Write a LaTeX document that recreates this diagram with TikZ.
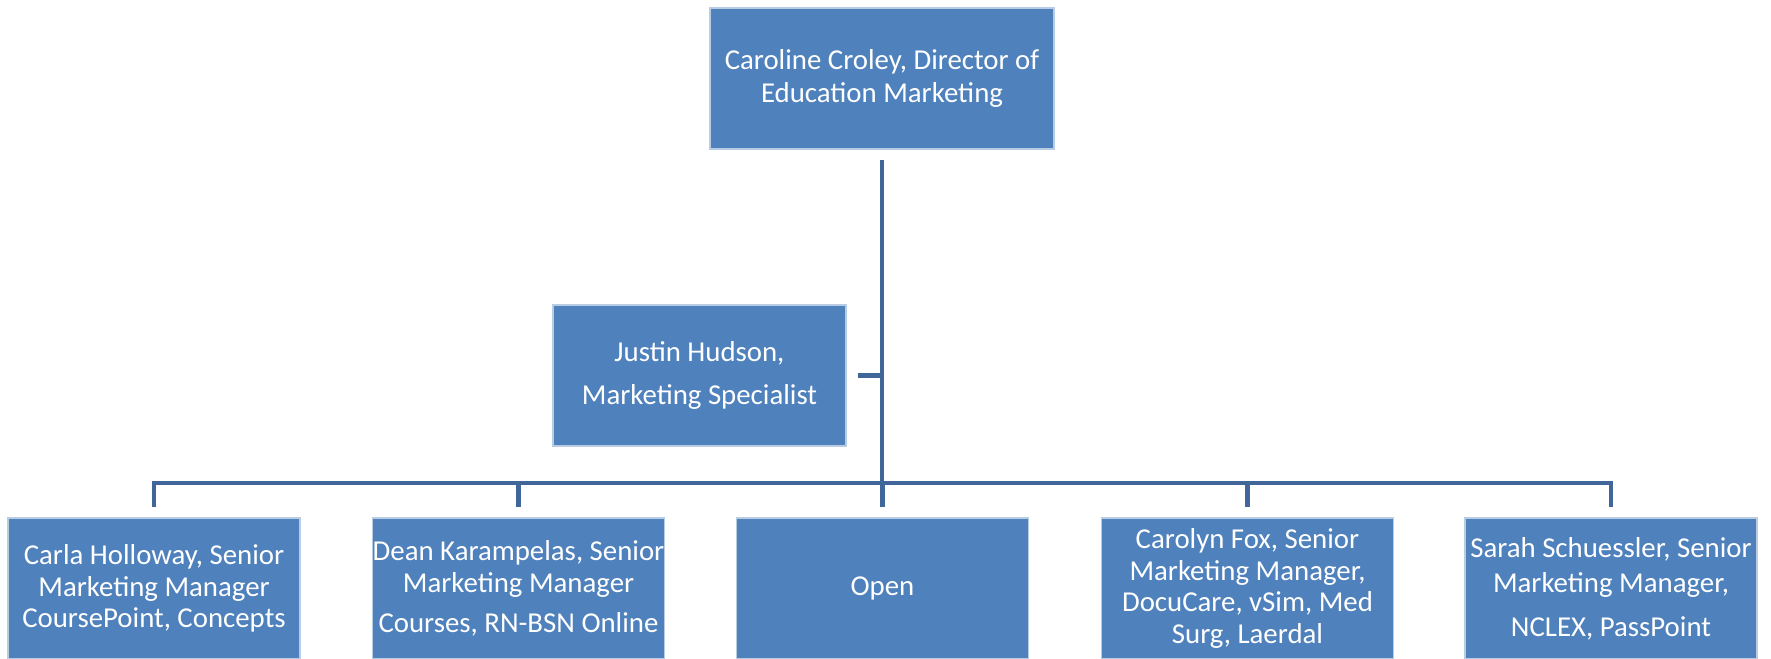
\documentclass[tikz,border=0pt]{standalone}
\usepackage{fontspec}
\setmainfont{Carlito}
\definecolor{boxblue}{HTML}{4F81BD}
\definecolor{lineblue}{HTML}{41679A}
\definecolor{edgeblue}{HTML}{B8CCE4}
\tikzset{
  orgbox/.style={rectangle,fill=boxblue,draw=edgeblue,line width=.4pt,text=white,align=center,
    inner sep=0pt,minimum width=2.92cm,minimum height=1.41cm,font=\fontsize{8.2}{9}\selectfont},
  link/.style={draw=lineblue,line width=1.4pt}
}

\begin{document}
\begin{tikzpicture}
                    \useasboundingbox(0,0)rectangle(17.71,6.59);
                    \node[orgbox,minimum width=3.44cm](croley)at(8.82,5.805){Caroline Croley, Director of\\[.5pt]Education Marketing};
                    \node[orgbox,minimum width=2.93cm](justin)at(6.995,2.835){Justin Hudson,\\[3.5pt]Marketing Specialist};
                    \node[orgbox](carla)at(1.54,0.705){Carla Holloway, Senior\\Marketing Manager\\CoursePoint, Concepts};
                    \node[orgbox](dean)at(5.185,0.705){Dean Karampelas, Senior\\Marketing Manager\\[2.5pt]Courses, RN-BSN Online};
                    \node[orgbox](open)at(8.825,0.705){Open};
                    \node[orgbox](fox)at(12.475,0.705){Carolyn Fox, Senior\\Marketing Manager,\\DocuCare, vSim, Med\\Surg, Laerdal};
                    \node[orgbox](sarah)at(16.11,0.705){Sarah Schuessler, Senior\\[1pt]Marketing Manager,\\[3.5pt]NCLEX, PassPoint};
                    \coordinate(bar)at(8.82,1.76);
                    \draw[link,shorten <=1mm](croley.south)--(croley.south|-bar);
                    \draw[link,shorten <=1.1mm](justin.east)--(justin.east-|croley.south);
                    \draw[link,shorten <=1mm,shorten >=1mm](carla.north)--(carla.north|-bar)--(sarah.north|-bar)--(sarah.north);
                    \draw[link,shorten >=1mm](dean.north|-bar)--(dean.north);
                    \draw[link,shorten >=1mm](open.north|-bar)--(open.north);
                    \draw[link,shorten >=1mm](fox.north|-bar)--(fox.north);
                \end{tikzpicture}
\end{document}
